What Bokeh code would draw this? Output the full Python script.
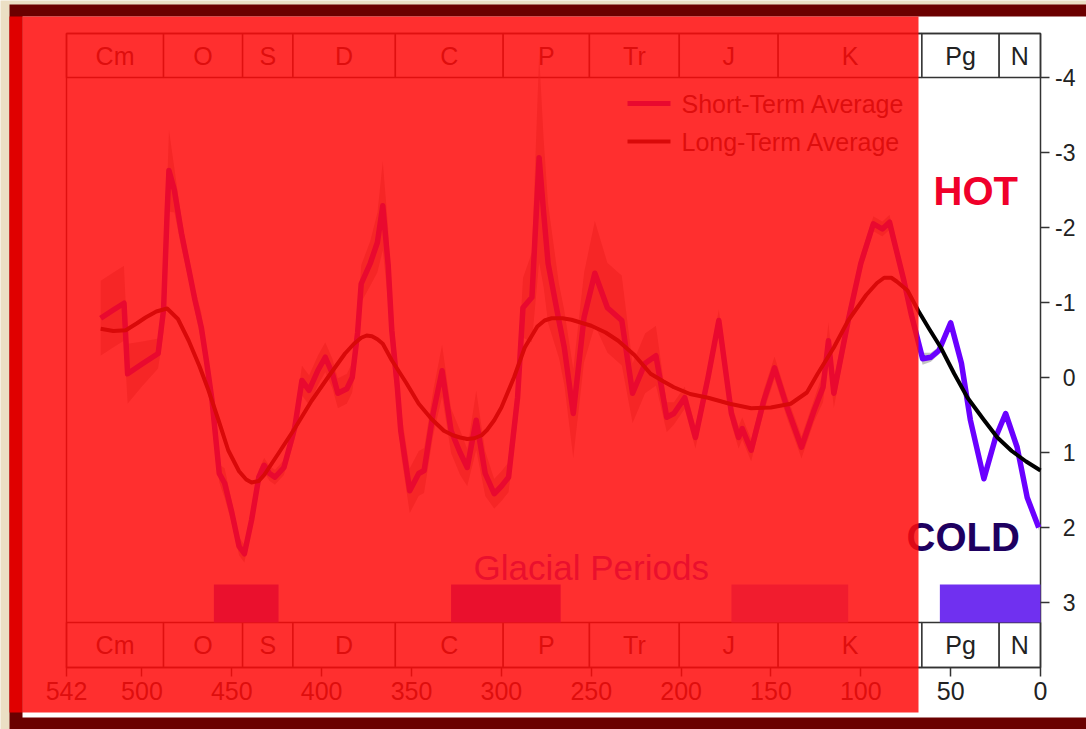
from bokeh.plotting import figure
from bokeh.models import Range1d, FixedTicker, BoxAnnotation, Label, ColumnDataSource
from bokeh.core.properties import value
from bokeh.embed import file_html
from bokeh.resources import INLINE

# ---- data: delta-18O anomaly (per mil) against age (Ma) ----
short_age = [523, 516, 510, 508, 500, 491, 488, 486, 485, 482, 478, 474, 470.5, 467,
             464, 461, 457, 454, 450, 446, 443, 439, 435, 432, 429, 426, 421, 415, 411,
             407, 402, 398, 394, 391, 386, 383, 380, 378, 373, 369, 366, 363, 361, 358,
             356, 351, 346, 343, 338, 333, 328, 323, 319, 314, 309, 304, 300, 296, 291,
             288, 283, 281, 279, 276.5, 274, 268, 265, 260, 254, 248, 241, 233, 227,
             220, 214, 208, 204, 198, 192, 185, 179, 172, 168, 166, 161, 154, 148, 141,
             133, 126, 121, 118, 115, 107, 100, 93, 88, 84, 82, 76, 72, 65.6, 61, 56.5,
             50, 44, 39, 31.5, 25, 19.4, 13, 7.4, 1]
short_val = [-0.79, -0.90, -0.99, -0.05, -0.18, -0.32, -0.90, -2.20, -2.76, -2.50, -1.92,
             -1.45, -1.03, -0.67, -0.20, 0.31, 1.28, 1.41, 1.80, 2.25, 2.35, 1.90, 1.33,
             1.17, 1.28, 1.33, 1.20, 0.67, 0.04, 0.17, -0.10, -0.27, -0.05, 0.21, 0.15,
             0.00, -0.60, -1.25, -1.52, -1.80, -2.29, -1.50, -0.63, 0.10, 0.71, 1.51,
             1.28, 1.24, 0.48, -0.09, 0.71, 1.00, 1.20, 0.57, 1.28, 1.55, 1.45, 1.33,
             0.27, -0.93, -1.07, -2.00, -2.93, -2.20, -1.52, -0.76, -0.40, 0.48, -0.80,
             -1.39, -0.93, -0.76, 0.21, -0.19, -0.29, 0.53, 0.48, 0.27, 0.80, 0.00,
             -0.76, 0.48, 0.80, 0.68, 0.97, 0.31, -0.13, 0.40, 0.93, 0.44, 0.13, -0.49,
             0.21, -0.76, -1.52, -2.05, -1.98, -2.07, -1.87, -1.29, -0.85, -0.25, -0.27,
             -0.36, -0.73, -0.19, 0.57, 1.35, 0.80, 0.48, 0.93, 1.60, 2.00]
short_spread = [0.50, 0.50, 0.50, 0.40, 0.30, 0.20, 0.30, 0.40, 0.55, 0.30, 0.20, 0.15,
                0.15, 0.20, 0.15, 0.12, 0.12, 0.20, 0.15, 0.12, 0.12, 0.10, 0.10, 0.10,
                0.10, 0.10, 0.10, 0.15, 0.20, 0.20, 0.20, 0.20, 0.20, 0.20, 0.20, 0.20,
                0.25, 0.25, 0.30, 0.40, 0.60, 0.50, 0.40, 0.30, 0.30, 0.30, 0.30, 0.30,
                0.30, 0.35, 0.30, 0.30, 0.25, 0.40, 0.30, 0.20, 0.20, 0.20, 0.30, 0.40,
                0.60, 1.00, 1.40, 1.00, 0.80, 0.50, 0.50, 0.60, 0.60, 0.70, 0.60, 0.60,
                0.40, 0.40, 0.40, 0.20, 0.15, 0.15, 0.15, 0.15, 0.15, 0.15, 0.15, 0.15,
                0.15, 0.15, 0.15, 0.15, 0.15, 0.15, 0.20, 0.25, 0.20, 0.15, 0.12, 0.10,
                0.10, 0.10, 0.10, 0.10, 0.10, 0.08, 0.06, 0.05, 0.05, 0.04, 0.04, 0.04,
                0.04, 0.04, 0.04, 0.04, 0.04]

long_age = [523, 516, 509, 503, 498, 492, 486, 480, 474, 468, 463, 457, 452, 446, 442,
            439, 435, 432, 424, 415, 405.6, 396, 387, 382, 378, 375, 372, 369, 366, 361,
            353, 346, 339, 332, 327, 323, 319, 315, 311, 308, 304, 300, 293, 287, 280,
            276, 272, 266, 261, 250, 242, 235, 226, 217, 210, 204, 195, 185, 173, 161,
            150, 139, 130, 124, 115, 107, 97, 91, 87, 83, 80, 74, 68, 62, 55.5, 48, 40.6,
            32, 24, 16, 8, 0]
long_val = [-0.65, -0.62, -0.63, -0.72, -0.80, -0.88, -0.92, -0.78, -0.49, -0.15, 0.17,
            0.60, 0.97, 1.25, 1.36, 1.40, 1.38, 1.30, 1.01, 0.68, 0.31, -0.02, -0.32,
            -0.45, -0.53, -0.56, -0.55, -0.51, -0.45, -0.23, 0.07, 0.35, 0.55, 0.71, 0.77,
            0.80, 0.82, 0.81, 0.77, 0.70, 0.57, 0.40, 0.00, -0.40, -0.68, -0.76, -0.79,
            -0.79, -0.77, -0.69, -0.60, -0.49, -0.30, -0.05, 0.05, 0.13, 0.22, 0.27, 0.35,
            0.41, 0.40, 0.35, 0.20, -0.05, -0.40, -0.76, -1.10, -1.26, -1.33, -1.33, -1.28,
            -1.16, -0.89, -0.65, -0.40, -0.05, 0.27, 0.55, 0.80, 0.98, 1.12, 1.24]

# geologic periods (boundaries in Ma)
period_bounds = [542, 488, 444, 416, 359, 299, 251, 201, 146, 66, 23, 0]
period_names = ["Cm", "O", "S", "D", "C", "P", "Tr", "J", "K", "Pg", "N"]

# glacial periods
glacial_start = [460, 328, 172, 56]
glacial_end = [424, 267, 107, 0]
glacial_colors = ["#7030f0", "#7030f0", "#9f80f6", "#7030f0"]

legend_labels = ["Short-Term Average", "Long-Term Average"]
legend_colors = ["#6a00ff", "black"]

x_ticks = [542, 500, 450, 400, 350, 300, 250, 200, 150, 100, 50, 0]
y_ticks = [-4, -3, -2, -1, 0, 1, 2, 3]

FONT = "Liberation Sans"
W, H = 1086, 729

# canvas layout (pixels): the plot box runs from x=66 (542 Ma) to x=1040 (0 Ma);
# the value -4 sits at y=77 and every unit takes 75 px
PX_LEFT, PX_RIGHT = 66, 1040
PX_PER_MA = (PX_RIGHT - PX_LEFT) / 542
PY_M4, PX_PER_UNIT = 77, 75.0


def ma(px):
    return 542 - (px - PX_LEFT) / PX_PER_MA


def dv(py):
    return -4 + (py - PY_M4) / PX_PER_UNIT


Y_TOP, Y_BOTTOM = dv(33), dv(667)          # outer edges of the time-scale strips
BAND_IN_TOP, BAND_IN_BOTTOM = -4.0, dv(622)
GLACIAL_TOP = dv(584)

p = figure(width=W, height=H, output_backend="svg", toolbar_location=None,
           x_range=Range1d(ma(0), ma(W)), y_range=Range1d(dv(H), dv(0)),
           y_axis_location="left", min_border=0,
           min_border_left=0, min_border_right=0, min_border_top=0, min_border_bottom=0)
p.xgrid.visible = False
p.ygrid.visible = False
p.background_fill_color = "#ebdfc4"
p.border_fill_color = "#ebdfc4"
p.outline_line_color = None


def page_box(left, right, top, bottom, color, alpha=1.0, level="underlay"):
    p.add_layout(BoxAnnotation(
        left=None if left is None else ma(left),
        right=None if right is None else ma(right),
        top=None if top is None else dv(top),
        bottom=None if bottom is None else dv(bottom),
        fill_color=color, fill_alpha=alpha, line_color=None, level=level))


# page frame: dark red border, white sheet, red strip on the left
page_box(9, None, 4, None, "#6b0000")
page_box(22, None, 16, 717, "white")
page_box(9, 22, 16, 712, "#e00000")

# geologic time scale strips above and below the curves
lefts = period_bounds[:-1]
rights = period_bounds[1:]
mids = [(a + b) / 2 for a, b in zip(lefts, rights)]
p.quad(left=lefts, right=rights, top=Y_TOP, bottom=BAND_IN_TOP,
       fill_color="white", line_color="#333333", line_width=1.5)
p.quad(left=lefts, right=rights, top=BAND_IN_BOTTOM, bottom=Y_BOTTOM,
       fill_color="white", line_color="#333333", line_width=1.5)
for yc in [(Y_TOP + BAND_IN_TOP) / 2, (BAND_IN_BOTTOM + Y_BOTTOM) / 2]:
    p.text(x=mids, y=[yc] * len(mids), text=period_names,
           text_font=value(FONT), text_font_size=value("25px"),
           text_color="#222222", text_align="center", text_baseline="middle")
# plot box border
p.quad(left=[period_bounds[0]], right=[period_bounds[-1]], top=[Y_TOP], bottom=[Y_BOTTOM],
       fill_color=None, line_color="#333333", line_width=1.5)

# glacial periods
p.quad(left=glacial_start, right=glacial_end, top=GLACIAL_TOP, bottom=BAND_IN_BOTTOM,
       fill_color=glacial_colors, line_color=None)
p.add_layout(Label(x=250, y=dv(567), text="Glacial Periods", text_font=FONT,
                   text_font_size="35px", text_color="#7030f0",
                   text_align="center", text_baseline="middle"))

# uncertainty band and the two averages
src = ColumnDataSource(dict(
    age=short_age, val=short_val,
    lo=[v - s for v, s in zip(short_val, short_spread)],
    hi=[v + s for v, s in zip(short_val, short_spread)]))
p.varea(x="age", y1="lo", y2="hi", source=src, fill_color="#7a7a7a", fill_alpha=0.45)
p.line(x="age", y="val", source=src, line_color=legend_colors[0], line_width=5.5,
       line_join="round")
p.line(x=long_age, y=long_val, line_color=legend_colors[1], line_width=4,
       line_join="round")

# key
key_rows = [dv(103), dv(141)]
p.segment(x0=[ma(627)] * 2, x1=[ma(670)] * 2, y0=key_rows, y1=key_rows,
          line_color=legend_colors, line_width=[5, 4])
p.text(x=[ma(681)] * 2, y=key_rows, text=legend_labels,
       text_font=value(FONT), text_font_size=value("25px"), text_color="#222222",
       text_align="left", text_baseline="middle")

p.add_layout(Label(x=36, y=-2.49, text="HOT", text_font=FONT, text_font_size="40px",
                   text_font_style="bold", text_color="#f0002a",
                   text_align="center", text_baseline="middle"))
p.add_layout(Label(x=43, y=2.13, text="COLD", text_font=FONT, text_font_size="40px",
                   text_font_style="bold", text_color="#1e0060",
                   text_align="center", text_baseline="middle"))

# axes, pinned to the plot box edges; the value axis carries its ticks and
# right-aligned labels on the outer (right) side of the box
p.xaxis.fixed_location = Y_BOTTOM
p.yaxis.fixed_location = period_bounds[-1]
for ax, ticks, size in [(p.xaxis, x_ticks, "25px"), (p.yaxis, y_ticks, "23px")]:
    ax.ticker = FixedTicker(ticks=ticks)
    ax.major_label_overrides = {t: str(t) for t in ticks}
    ax.minor_tick_line_color = None
    ax.major_tick_line_color = "#333333"
    ax.major_tick_line_width = 1.5
    ax.axis_line_color = None
    ax.major_label_text_font = FONT
    ax.major_label_text_font_size = size
    ax.major_label_text_color = "#222222"
p.xaxis.major_tick_in = 0
p.xaxis.major_tick_out = 9
p.xaxis.major_label_standoff = 5
p.yaxis.major_tick_in = 9
p.yaxis.major_tick_out = 0
p.yaxis.major_label_standoff = -35

# translucent red wash over the older part of the record
page_box(22, 918, 16, 712, "#ff0a0a", alpha=0.85, level="overlay")

open("out.html", "w").write(file_html(p, INLINE))
